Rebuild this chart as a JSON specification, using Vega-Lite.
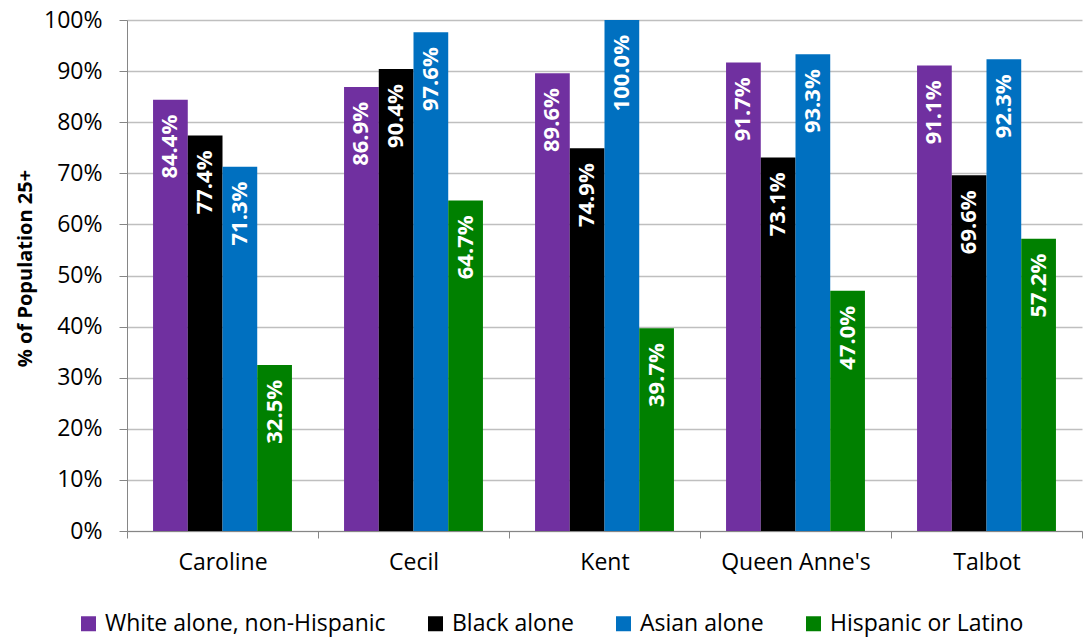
{
  "$schema": "https://vega.github.io/schema/vega-lite/v6.json",
  "width": 955,
  "height": 511,
  "autosize": {"type": "none"},
  "padding": {"left": 127, "top": 20, "right": 1, "bottom": 106},
  "background": "white",
  "config": {
    "font": "Open Sans",
    "view": {"stroke": null}
  },
  "data": {
    "values": [
      {"county": "Caroline", "group": "White alone, non-Hispanic", "value": 0.844},
      {"county": "Caroline", "group": "Black alone", "value": 0.774},
      {"county": "Caroline", "group": "Asian alone", "value": 0.713},
      {"county": "Caroline", "group": "Hispanic or Latino", "value": 0.325},
      {"county": "Cecil", "group": "White alone, non-Hispanic", "value": 0.869},
      {"county": "Cecil", "group": "Black alone", "value": 0.904},
      {"county": "Cecil", "group": "Asian alone", "value": 0.976},
      {"county": "Cecil", "group": "Hispanic or Latino", "value": 0.647},
      {"county": "Kent", "group": "White alone, non-Hispanic", "value": 0.896},
      {"county": "Kent", "group": "Black alone", "value": 0.749},
      {"county": "Kent", "group": "Asian alone", "value": 1.0},
      {"county": "Kent", "group": "Hispanic or Latino", "value": 0.397},
      {"county": "Queen Anne's", "group": "White alone, non-Hispanic", "value": 0.917},
      {"county": "Queen Anne's", "group": "Black alone", "value": 0.731},
      {"county": "Queen Anne's", "group": "Asian alone", "value": 0.933},
      {"county": "Queen Anne's", "group": "Hispanic or Latino", "value": 0.47},
      {"county": "Talbot", "group": "White alone, non-Hispanic", "value": 0.911},
      {"county": "Talbot", "group": "Black alone", "value": 0.696},
      {"county": "Talbot", "group": "Asian alone", "value": 0.923},
      {"county": "Talbot", "group": "Hispanic or Latino", "value": 0.572}
    ]
  },
  "encoding": {
    "x": {
      "field": "county",
      "type": "nominal",
      "sort": ["Caroline", "Cecil", "Kent", "Queen Anne's", "Talbot"],
      "scale": {"paddingInner": 0, "paddingOuter": 0},
      "axis": {
        "title": null,
        "labelAngle": 0,
        "labelFontSize": 23,
        "labelColor": "#000000",
        "labelPadding": 13,
        "tickBand": "extent",
        "tickSize": 7,
        "tickColor": "#868686",
        "domainColor": "#868686",
        "grid": false
      }
    },
    "xOffset": {
      "field": "group",
      "type": "nominal",
      "sort": ["White alone, non-Hispanic", "Black alone", "Asian alone", "Hispanic or Latino"],
      "scale": {"paddingInner": 0, "paddingOuter": 0.75}
    },
    "y": {
      "field": "value",
      "type": "quantitative",
      "scale": {"domain": [0, 1]},
      "axis": {
        "title": "% of Population 25+",
        "titleFontSize": 20,
        "titleFontWeight": "bold",
        "titleColor": "#000000",
        "titleX": -102,
        "titleY": 248,
        "titleAlign": "center",
        "titleBaseline": "middle",
        "titleAngle": -90,
        "format": ".0%",
        "values": [0, 0.1, 0.2, 0.3, 0.4, 0.5, 0.6, 0.7, 0.8, 0.9, 1.0],
        "labelFontSize": 23,
        "labelColor": "#000000",
        "labelPadding": 17,
        "tickSize": 8,
        "tickColor": "#868686",
        "domainColor": "#868686",
        "gridColor": "#BFBFBF",
        "gridWidth": 1.5
      }
    }
  },
  "layer": [
    {
      "mark": {"type": "bar"},
      "encoding": {
        "color": {
          "field": "group",
          "type": "nominal",
          "sort": ["White alone, non-Hispanic", "Black alone", "Asian alone", "Hispanic or Latino"],
          "scale": {
            "domain": ["White alone, non-Hispanic", "Black alone", "Asian alone", "Hispanic or Latino"],
            "range": ["#7030A0", "#000000", "#0070C0", "#008000"]
          },
          "legend": {
            "title": null,
            "orient": "none",
            "direction": "horizontal",
            "legendX": -50,
            "legendY": 592,
            "symbolType": "square",
            "symbolSize": 225,
            "symbolStrokeWidth": 0,
            "symbolOpacity": 1,
            "labelFontSize": 23,
            "labelColor": "#000000",
            "labelOffset": 5,
            "columnPadding": 38,
            "labelLimit": 400
          }
        }
      }
    },
    {
      "mark": {
        "type": "text",
        "angle": 270,
        "align": "right",
        "baseline": "middle",
        "dx": -15,
        "color": "white",
        "fontWeight": "bold",
        "fontSize": 22
      },
      "encoding": {
        "text": {"field": "value", "type": "quantitative", "format": ".1%"}
      }
    }
  ]
}
